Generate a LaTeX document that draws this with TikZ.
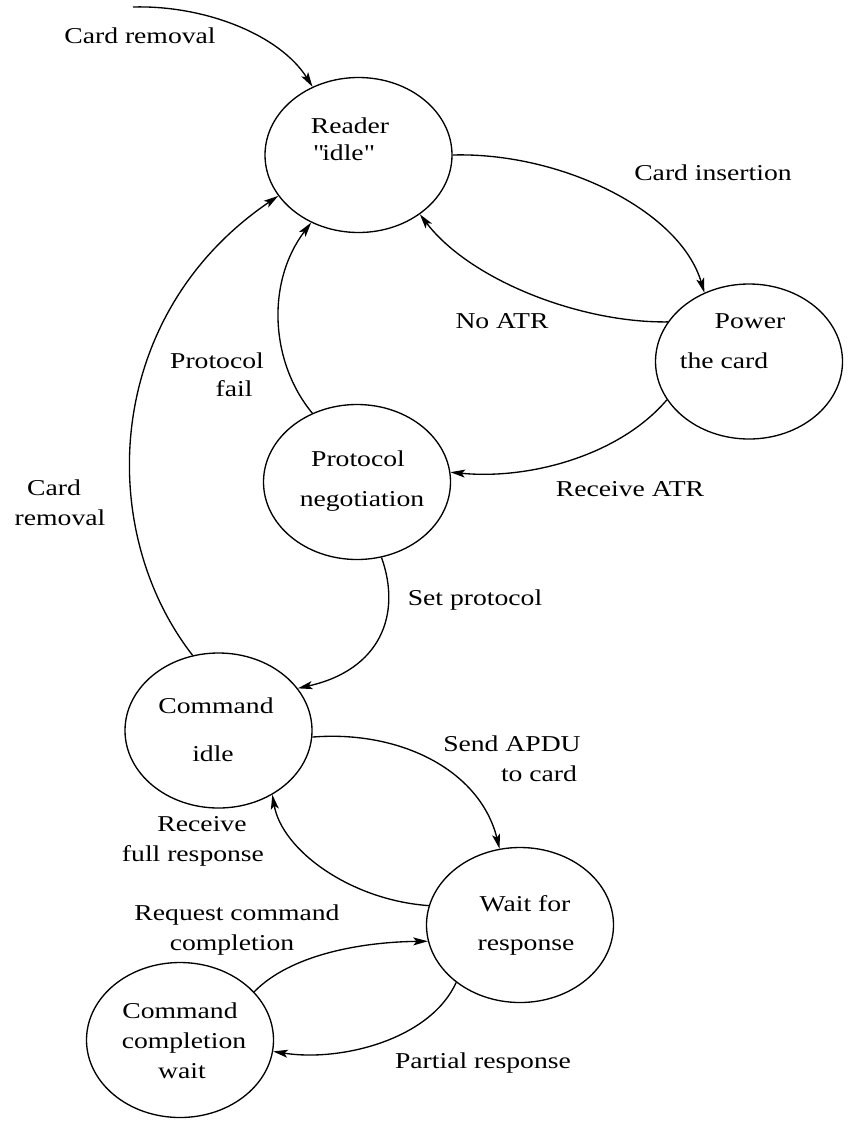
\documentclass[tikz,border=0pt]{standalone}
\usepackage{fontspec}
\setmainfont[FakeStretch=1.22]{Liberation Serif}
\usetikzlibrary{arrows.meta,shapes.geometric}
% straight double quote, set as a glyph so the TeX ligature mapping leaves it alone
\newcommand\straightquote{\XeTeXglyph\XeTeXcharglyph"0022\relax}

\begin{document}
\begin{tikzpicture}[x=0.75pt,y=-0.75pt,
  state/.style={draw, ellipse, line width=1pt, minimum width=140.25pt,
                minimum height=116.25pt, inner sep=0pt},
  txt/.style={font=\fontsize{17}{20}\selectfont, inner sep=0pt, anchor=mid},
  arr/.style={line width=1pt,
              -{Stealth[length=11pt,width=6pt,inset=2.5pt]}}
]
\fill[white] (0,0) rectangle (854,1128);
\useasboundingbox (0,0) rectangle (854,1128);

% states
\node[state] (reader)  at (358.5,155)   {};
\node[state] (power)   at (749,361.5)   {};
\node[state] (proto)   at (357,482)     {};
\node[state] (cmdidle) at (218.5,730.5) {};
\node[state] (wait)    at (520,925)     {};
\node[state] (ccw)     at (180,1040)    {};

% state texts
\node[txt] (reader-a) at (350,130) {Reader};
\node[txt] (reader-b) at (343,157) {\straightquote idle\straightquote};
\node[txt] (power-a)  at (750,325) {Power};
\node[txt] (power-b)  at (724,365) {the card};
\node[txt] (proto-a)  at (358,463) {Protocol};
\node[txt] (proto-b)  at (362,503) {negotiation};
\node[txt] (cmd-a)    at (216,710) {Command};
\node[txt] (cmd-b)    at (213,758) {idle};
\node[txt] (wait-a)   at (525,908) {Wait for};
\node[txt] (wait-b)   at (526,947) {response};
\node[txt] (ccw-a)    at (180,1015) {Command};
\node[txt] (ccw-b)    at (184,1045) {completion};
\node[txt] (ccw-c)    at (182,1075) {wait};

% transition labels
\node[txt] (l-remove)  at (140,40)  {Card removal};
\node[txt] (l-insert)  at (713,177) {Card insertion};
\node[txt] (l-noatr)   at (502,325) {No ATR};
\node[txt] (l-atr)     at (630,493) {Receive ATR};
\node[txt] (l-fail-a)  at (217,365) {Protocol};
\node[txt] (l-fail-b)  at (234,393) {fail};
\node[txt] (l-rem2-a)  at (54,492)  {Card};
\node[txt] (l-rem2-b)  at (60,522)  {removal};
\node[txt] (l-setp)    at (475,602) {Set protocol};
\node[txt] (l-apdu-a)  at (512,748) {Send APDU};
\node[txt] (l-apdu-b)  at (539,778) {to card};
\node[txt] (l-full-a)  at (202,828) {Receive};
\node[txt] (l-full-b)  at (193,858) {full response};
\node[txt] (l-req-a)   at (237,917) {Request command};
\node[txt] (l-req-b)   at (232,947) {completion};
\node[txt] (l-part)    at (483,1065) {Partial response};

% transitions
\coordinate (entry) at (133,7);
\draw[arr] (entry) .. controls (205,5) and (280,35) .. (reader.124);
\draw[arr] (reader.0) .. controls (560,152) and (680,210) .. (power.123);
\draw[arr] (power.154) .. controls (580,323) and (470,280) .. (reader.-44);
\draw[arr] (power.205) .. controls (620,455) and (530,480) .. (proto.6);
\draw[arr] (proto.123) .. controls (270,362) and (266,282) .. (reader.235);
\draw[arr] (cmdidle.109) .. controls (95,530) and (103,315) .. (reader.207);
\draw[arr] (proto.-72) .. controls (402,615) and (380,670) .. (cmdidle.28);
\draw[arr] (cmdidle.-4) .. controls (400,730) and (480,770) .. (wait.105);
\draw[arr] (wait.168) .. controls (350,900) and (282,850) .. (cmdidle.-50);
\draw[arr] (ccw.33) .. controls (290,955) and (360,942) .. (wait.190);
\draw[arr] (wait.222) .. controls (430,1040) and (340,1062) .. (ccw.-7);
\end{tikzpicture}
\end{document}
